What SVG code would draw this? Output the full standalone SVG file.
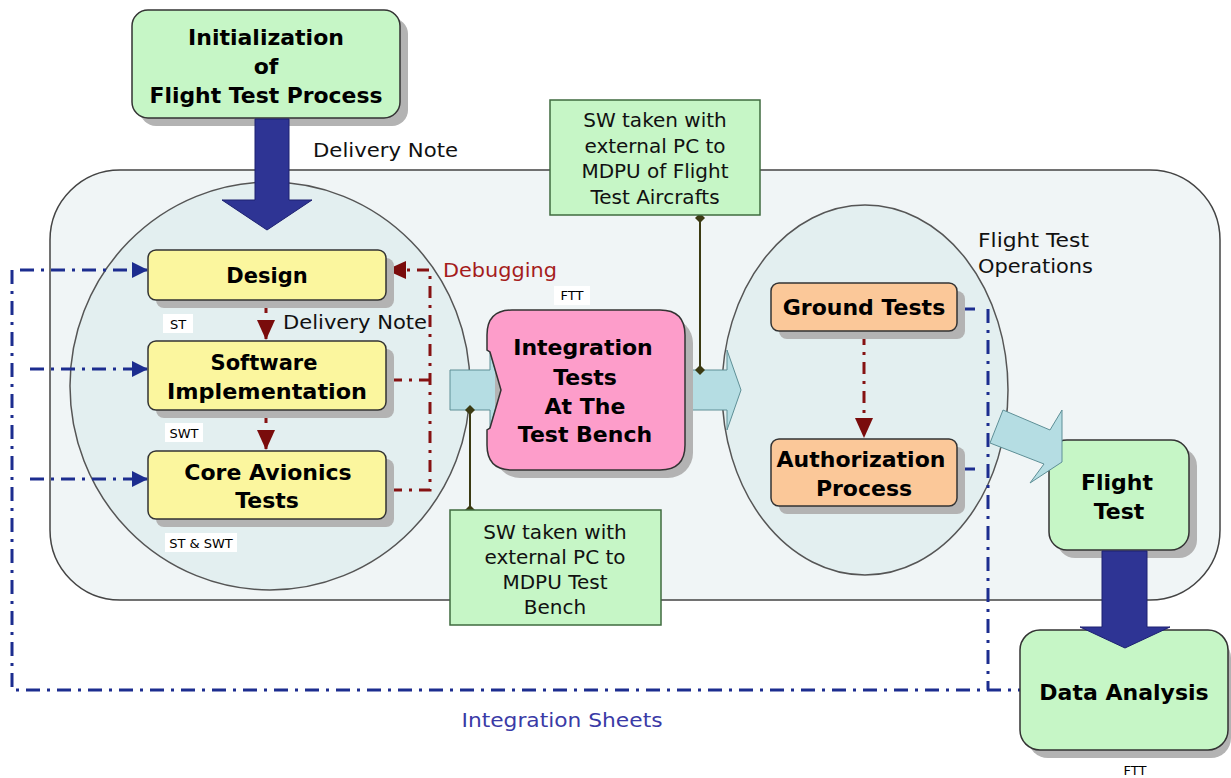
<svg xmlns="http://www.w3.org/2000/svg" width="1231" height="778" viewBox="0 0 1231 778">
<style>
text{font-family:"DejaVu Sans","Verdana",sans-serif;}
.b{font-weight:bold;font-size:22px;fill:#000;text-anchor:middle;}
.r{font-size:20px;fill:#111;}
.c{text-anchor:middle;}
.sm{font-size:13px;fill:#000;text-anchor:middle;}
.sh{fill:#b3b3b3;}
.green{fill:#c6f6c6;stroke:#333;stroke-width:1.5;}
.yel{fill:#fbf69e;stroke:#333;stroke-width:1.5;}
.org{fill:#fbc899;stroke:#333;stroke-width:1.5;}
.note{fill:#c6f6c6;stroke:#3f6b3f;stroke-width:1.5;}
.lb{fill:#b5dde3;stroke:#5e8f96;stroke-width:1;}
.big{fill:#2e3494;stroke:#1c2070;stroke-width:1;}
.bd{fill:none;stroke:#1c2d8f;stroke-width:3;stroke-dasharray:14 7 3 7;}
.rd{fill:none;stroke:#861212;stroke-width:3;stroke-dasharray:12 7 3 7;}
.ol{stroke:#3b3a12;stroke-width:2;fill:none;}
</style>
<defs>
<marker id="bh" markerWidth="16" markerHeight="16" refX="15" refY="8" orient="auto" markerUnits="userSpaceOnUse"><path d="M0,0 L16,8 L0,16 Z" fill="#1c2d8f"/></marker>
<marker id="rh" markerWidth="20" markerHeight="20" refX="19" refY="10" orient="auto" markerUnits="userSpaceOnUse"><path d="M0,1 L20,10 L0,19 Z" fill="#7a0c0c"/></marker>
<marker id="dm" markerWidth="10" markerHeight="10" refX="5" refY="5" orient="auto" markerUnits="userSpaceOnUse"><path d="M5,0 L10,5 L5,10 L0,5 Z" fill="#3b3a12"/></marker>
</defs>

<g id="background">
<rect x="50" y="170" width="1170" height="430" rx="70" fill="#f0f5f6" stroke="#444" stroke-width="1.5"/>
<ellipse cx="270" cy="386" rx="200" ry="204" fill="#e3eff0" stroke="#555" stroke-width="1.5"/>
<ellipse cx="865" cy="390" rx="143" ry="185" fill="#e3eff0" stroke="#555" stroke-width="1.5"/>
</g>

<g id="labels">
<text class="r" x="313" y="157" textLength="145" lengthAdjust="spacingAndGlyphs">Delivery Note</text>
<text class="r" x="283" y="329" textLength="144" lengthAdjust="spacingAndGlyphs">Delivery Note</text>
<text class="r" x="443" y="277" style="fill:#a51c1c" textLength="114" lengthAdjust="spacingAndGlyphs">Debugging</text>
<text class="r" x="978" y="247" textLength="111" lengthAdjust="spacingAndGlyphs">Flight Test</text>
<text class="r" x="978" y="273" textLength="115" lengthAdjust="spacingAndGlyphs">Operations</text>
<text class="r c" x="562" y="727" style="fill:#3a3aa6" textLength="201" lengthAdjust="spacingAndGlyphs">Integration Sheets</text>
<rect x="163" y="314" width="30" height="19" fill="#fff"/>
<text class="sm" x="178" y="329">ST</text>
<rect x="165" y="423" width="38" height="19" fill="#fff"/>
<text class="sm" x="184" y="438">SWT</text>
<rect x="165" y="533" width="72" height="19" fill="#fff"/>
<text class="sm" x="201" y="548">ST &amp; SWT</text>
<rect x="554" y="286" width="36" height="19" fill="#fff"/>
<text class="sm" x="572" y="300">FTT</text>
<text class="sm" x="1135" y="775">FTT</text>
</g>

<g id="connectors">
<path class="bd" d="M12,270 V690 H1020"/>
<path class="bd" d="M20,270 H147" marker-end="url(#bh)"/>
<path class="bd" d="M30,369 H147" marker-end="url(#bh)"/>
<path class="bd" d="M30,479 H147" marker-end="url(#bh)"/>
<path class="bd" d="M988,309 V690"/>
<path d="M962,309 H975 M962,469 H975" stroke="#1c2d8f" stroke-width="3" fill="none"/>
<path class="rd" d="M390,490 H430 V270 H387" marker-end="url(#rh)"/>
<path class="rd" d="M390,380 H430"/>
<path class="rd" d="M266,301 V339" marker-end="url(#rh)"/>
<path class="rd" d="M266,411 V449" marker-end="url(#rh)"/>
<path class="rd" d="M864,333 V437" marker-end="url(#rh)"/>
<polygon class="lb" points="450,370 490,370 490,352 501,390 490,428 490,410 450,410"/>
<polygon class="lb" points="685,370 727,370 727,350 741,390 727,430 727,410 685,410"/>
<path class="ol" d="M700,218 V370" marker-start="url(#dm)" marker-end="url(#dm)"/>
<path class="ol" d="M470,410 V510" marker-start="url(#dm)" marker-end="url(#dm)"/>
</g>

<g id="init">
<rect class="sh" x="140" y="18" width="268" height="108" rx="16"/>
<rect class="green" x="132" y="10" width="268" height="108" rx="16"/>
<text class="b" x="266" y="45">Initialization</text>
<text class="b" x="266" y="74">of</text>
<text class="b" x="266" y="103" textLength="233" lengthAdjust="spacingAndGlyphs">Flight Test Process</text>
</g>

<g id="design">
<rect class="sh" x="156" y="258" width="238" height="50" rx="8"/>
<rect class="yel" x="148" y="250" width="238" height="50" rx="8"/>
<text class="b" x="267" y="283" style="font-size:21px">Design</text>
</g>

<g id="software">
<rect class="sh" x="156" y="349" width="238" height="69" rx="8"/>
<rect class="yel" x="148" y="341" width="238" height="69" rx="8"/>
<text class="b" x="264" y="370" style="font-size:21px">Software</text>
<text class="b" x="267" y="399" style="font-size:21px" textLength="200" lengthAdjust="spacingAndGlyphs">Implementation</text>
</g>

<g id="core">
<rect class="sh" x="156" y="459" width="238" height="68" rx="8"/>
<rect class="yel" x="148" y="451" width="238" height="68" rx="8"/>
<text class="b" x="268" y="480">Core Avionics</text>
<text class="b" x="267" y="508">Tests</text>
</g>

<g id="integration">
<rect class="sh" x="495" y="318" width="198" height="160" rx="25"/>
<path d="M512,310 H660 Q685,310 685,335 V445 Q685,470 660,470 H512 Q487,470 487,445 V430 L490,428 L501,390 L490,352 L487,350 V335 Q487,310 512,310 Z" fill="#fd9dca" stroke="#333" stroke-width="1.5"/>
<text class="b" x="583" y="355">Integration</text>
<text class="b" x="585" y="385">Tests</text>
<text class="b" x="585" y="414">At The</text>
<text class="b" x="585" y="442">Test Bench</text>
</g>

<g id="note-top">
<rect class="note" x="550" y="100" width="210" height="115"/>
<text class="r c" x="655" y="127">SW taken with</text>
<text class="r c" x="655" y="153">external PC to</text>
<text class="r c" x="655" y="178">MDPU of Flight</text>
<text class="r c" x="655" y="204">Test Aircrafts</text>
</g>

<g id="note-bottom">
<rect class="note" x="450" y="510" width="211" height="115"/>
<text class="r c" x="555" y="539">SW taken with</text>
<text class="r c" x="555" y="564">external PC to</text>
<text class="r c" x="555" y="589">MDPU Test</text>
<text class="r c" x="555" y="614">Bench</text>
</g>

<g id="ground">
<rect class="sh" x="779" y="291" width="186" height="48" rx="8"/>
<rect class="org" x="771" y="283" width="186" height="48" rx="8"/>
<text class="b" x="864" y="315">Ground Tests</text>
</g>

<g id="authorization">
<rect class="sh" x="779" y="447" width="186" height="67" rx="8"/>
<rect class="org" x="771" y="439" width="186" height="67" rx="8"/>
<text class="b" x="861" y="467">Authorization</text>
<text class="b" x="864" y="496">Process</text>
</g>

<g id="flighttest">
<rect class="sh" x="1057" y="448" width="140" height="110" rx="18"/>
<rect class="green" x="1049" y="440" width="140" height="110" rx="18"/>
<text class="b" x="1117" y="490">Flight</text>
<text class="b" x="1119" y="519">Test</text>
</g>

<g id="dataanalysis">
<rect class="sh" x="1028" y="638" width="203" height="120" rx="20"/>
<rect class="green" x="1020" y="630" width="208" height="120" rx="20"/>
<text class="b" x="1124" y="700">Data Analysis</text>
</g>

<g id="flow-arrows">
<polygon class="lb" points="1003,410 1050,430 1062,410 1062,462 1030,483 1044,464 990,443"/>
<polygon class="big" points="255,119 289,119 289,200 312,200 267,230 222,200 255,200"/>
<polygon class="big" points="1102,551 1147,551 1147,627 1170,627 1125,648 1080,627 1102,627"/>
</g>
</svg>
